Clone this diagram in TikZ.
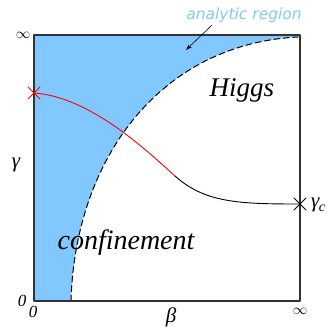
\documentclass[tikz,border=0pt]{standalone}
\usepackage{fix-cm}
\usepackage{fontspec}
\setmainfont{Liberation Serif}
\newfontfamily\labelfont{DejaVu Sans}
\usepackage{amsmath,amssymb}
\usepackage{graphicx}
\usetikzlibrary{arrows.meta,calc}
\definecolor{analyticblue}{RGB}{128,200,255}
\definecolor{framegray}{RGB}{50,50,50}
\newcommand{\bigInf}{\resizebox{14.5pt}{!}{$\infty$}}

\begin{document}
\begin{tikzpicture}[x=1pt, y=1pt, line join=round, line cap=round,
      axislabel/.style={font=\fontsize{17}{17}\selectfont\itshape, inner sep=0pt},
      greeklabel/.style={font=\fontsize{21}{21}\selectfont\itshape, inner sep=0pt}]
      \useasboundingbox (0,0) rectangle (328,329);
      \def\l{34}
      \def\r{300}
      \def\b{28}
      \def\t{294}
      \def\c{6}

      \coordinate (SW) at (\l,\b);
      \coordinate (SE) at (\r,\b);
      \coordinate (NE) at (\r,\t);
      \coordinate (NW) at (\l,\t);
      \coordinate (DB) at (71,\b);   % foot of dashed curve
      \coordinate (DT) at (298,292); % top of dashed curve
      \coordinate (RS) at (\l,236);  % red cross
      \coordinate (JN) at (175,153); % red meets black
      \coordinate (GC) at (\r,125);  % black cross

      % Fill analytic region
      \fill[analyticblue] (SW)--(DB) .. controls (75,170) and (160,285) .. (DT)--(NE)--(NW)--cycle;
      % Dashed boundary
      \draw[dash pattern=on 6pt off 3.5pt, line width=1pt] (DB) .. controls (75,170) and (160,285) .. (DT);
      % Frame
      \draw[framegray, line width=1.3pt, line cap=butt] (SW)--(SE)--(NE)--(NW)--cycle;

      % Transition lines
      \draw[red, line width=0.9pt] (RS) .. controls (90,232) and (145,180) .. (JN);
      \draw[line width=0.9pt] (JN) .. controls (205,126) and (240,125) .. (GC);
      \draw[red, line width=0.9pt] ($(RS)+(-\c,-\c)$)--++(2*\c,2*\c) ($(RS)+(-\c,\c)$)--++(2*\c,-2*\c);
      \draw[line width=0.9pt] ($(GC)+(-\c,-\c)$)--++(2*\c,2*\c) ($(GC)+(-\c,\c)$)--++(2*\c,-2*\c);

      % Axis labels
      \node[axislabel] (inftyy) at (23,294) {\bigInf};
      \node[greeklabel] (gam) at (16,164) {γ};
      \node[axislabel] (zeroy) at (22,28) {0};
      \node[axislabel] (zerox) at (33,17) {0};
      \node[greeklabel] (bet) at (171,12) {β};
      \node[axislabel] (inftyx) at (300,18) {\bigInf};
      \node[greeklabel, anchor=west] (gamc) at (311,124) {γ\kern-0.5pt\raisebox{-4pt}{\fontsize{14}{14}\selectfont c}};

      % Phase labels
      \node[font=\fontsize{27}{27}\selectfont\itshape, anchor=base] (higgs) at (242,232) {Higgs};
      \node[font=\fontsize{28}{28}\selectfont\itshape, anchor=base] (conf) at (126,79) {confinement};
      \node[font=\fontsize{15.5}{15.5}\selectfont\labelfont\itshape, text=analyticblue, anchor=base] (anreg) at (244,309) {analytic region};
      \coordinate (tip) at (186,279);
      \draw[-{Stealth[length=6pt, width=4pt]}, line width=0.6pt] (212,304) -- (tip);
\end{tikzpicture}
\end{document}
